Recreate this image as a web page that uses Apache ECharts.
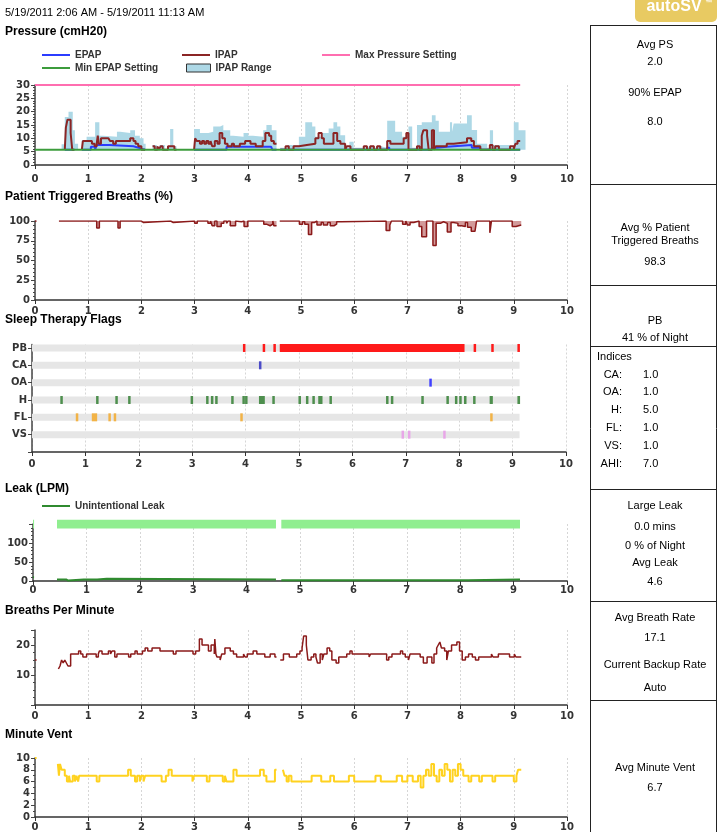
<!DOCTYPE html>
<html><head><meta charset="utf-8">
<script src="https://cdn.jsdelivr.net/npm/echarts@6/dist/echarts.min.js"></script>
<style>html,body{margin:0;padding:0;background:#fff}#c{width:721px;height:832px}</style>
</head><body><div id="c"></div>
<script>
// ---------------- DATA ----------------
const dateRange = '5/19/2011 2:06 AM - 5/19/2011 11:13 AM';
const panelTitles = ['Pressure (cmH20)', 'Patient Triggered Breaths (%)', 'Sleep Therapy Flags', 'Leak (LPM)', 'Breaths Per Minute', 'Minute Vent'];

// Pressure (cmH2O) — [hour, value], each value holds until the next point
const maxPressureSetting = [[0, 30], [9.12, 30]];
const minEpapSetting = [[0, 5.7], [9.12, 5.7]];
const ipapRangeTop = [
  [0.50,7.8],[0.56,18],[0.63,20],[0.71,13],[0.75,8],[0.81,8],[0.81,null],
  [0.88,9.4],[0.97,10.6],[1.13,16],[1.21,11],[1.28,10.6],[1.54,12.5],[1.60,12],[1.79,13],[1.88,11],[1.97,10],[2.04,8],[2.08,8],[2.08,null],
  [2.21,7.5],[2.29,5.7],[2.34,7.5],[2.44,5.7],[2.50,7],[2.54,13.5],[2.60,7],[2.66,7],[2.66,null],
  [2.99,13.5],[3.10,12],[3.26,12.5],[3.35,14.4],[3.48,15],[3.54,13],[3.67,11],[3.73,10.6],[3.92,12],[4.01,11],[4.10,10.6],[4.29,13],[4.35,15],[4.45,13],[4.54,13],[4.54,null],
  [4.61,6.5],[4.74,7.5],[4.96,10.6],[5.08,16],[5.21,14.4],[5.27,10.6],[5.40,12],[5.52,13.7],[5.61,16],[5.68,14.4],[5.74,11.2],[5.83,6.5],[5.91,8.7],[5.99,6.5],[6.20,7],[6.30,6.5],[6.40,7],[6.50,6.5],[6.62,16.6],[6.77,12.5],[6.90,10.6],[7.02,14.4],[7.09,6.5],[7.18,15],[7.27,16],[7.46,18.7],[7.53,16.6],[7.59,12.5],[7.80,16],[7.84,12.5],[7.87,15.6],[8.12,18.7],[8.21,13.1],[8.31,8],[8.50,6.5],[8.55,13],[8.61,7.5],[8.93,6.5],[9.00,16],[9.09,13],[9.22,13]
];
const ipap = [
  [0.56,5.7],[0.58,14],[0.61,17],[0.67,12],[0.70,5.7],[0.74,5.7],[0.74,null],
  [0.88,5.7],[0.90,9],[1.07,8],[1.12,7],[1.16,8],[1.18,11],[1.20,8],[1.24,10],[1.38,10],[1.41,9],[1.47,8],[1.52,9],[1.79,10],[1.85,9],[1.89,8],[1.94,7],[2.00,5.7],[2.07,5.7],[2.07,null],
  [2.21,7],[2.25,5.7],[2.30,7],[2.33,5.7],[2.36,7],[2.40,5.7],[2.50,7],[2.58,7],[2.62,5.7],[2.66,5.7],[2.66,null],
  [2.99,5.7],[3.01,10],[3.04,9],[3.10,8],[3.14,9],[3.18,8],[3.22,9],[3.26,8],[3.30,9],[3.33,7],[3.38,9],[3.43,8],[3.47,12],[3.52,10],[3.57,8],[3.62,7],[3.70,8],[3.74,7],[3.85,8],[3.95,9],[4.05,8],[4.15,7],[4.28,9],[4.33,12],[4.40,11],[4.44,9],[4.49,8],[4.54,8],[4.54,null],
  [4.61,5.7],[4.71,7],[4.77,5.7],[4.86,7],[4.96,7.5],[5.11,8],[5.27,10],[5.33,12],[5.39,10],[5.43,8],[5.61,12],[5.68,9],[5.74,8],[5.83,5.7],[5.86,7],[5.93,5.7],[6.18,7],[6.24,5.7],[6.30,7],[6.37,5.7],[6.43,7],[6.49,5.7],[6.62,9],[6.68,8],[6.93,10],[6.98,12],[7.02,5.7],[7.18,7],[7.23,5.7],[7.27,11],[7.30,13],[7.37,11],[7.40,5.7],[7.46,13],[7.50,5.7],[7.53,7],[7.74,8],[7.87,8.5],[8.12,10],[8.20,9],[8.25,7],[8.37,5.7],[8.55,7.5],[8.60,5.7],[8.65,7],[8.72,5.7],[8.93,7],[9.00,6],[9.03,8],[9.07,9],[9.12,9]
];
const epap = [
  [0.56,5.7],[0.74,5.7],[0.74,null],
  [0.88,5.7],[1.05,6.8],[1.13,5.7],[1.16,7.5],[1.40,7],[1.85,6.5],[1.95,6],[2.00,5.7],[2.07,5.7],[2.07,null],
  [2.99,5.7],[3.60,6.8],[4.44,6.8],[4.46,5.7],[4.54,5.7],[4.54,null],
  [4.61,5.7],[6.62,6.5],[6.66,5.7],[7.46,6.5],[7.55,6.8],[7.74,7.5],[8.21,6.5],[8.37,5.7],[9.12,5.7]
];

// Patient triggered breaths (%)
const triggeredBreaths = [
  [0,100],[0.03,100],[0.03,null],
  [0.45,100],[1.16,91],[1.21,100],[1.56,91],[1.60,100],[2.00,98],[2.04,100],[2.55,98],[2.60,100],[3.00,97],[3.05,100],[3.25,97],[3.30,100],[3.33,94],[3.38,100],[3.42,93],[3.50,97],[3.55,100],[3.60,97],[3.63,100],[3.67,94],[3.77,100],[3.80,99],[3.88,100],[3.93,93],[4.00,100],[4.30,96],[4.35,94],[4.42,96],[4.47,100],[4.49,94],[4.54,94],[4.54,null],
  [4.60,100],[4.97,96],[5.03,99],[5.07,96],[5.14,83],[5.20,98],[5.25,100],[5.30,95],[5.38,98],[5.42,95],[5.50,98],[5.55,94],[5.62,96],[5.67,99],[5.75,100],[6.60,88],[6.67,95],[6.70,100],[6.91,96],[6.97,100],[7.00,95],[7.05,98],[7.12,100],[7.22,93],[7.27,80],[7.36,100],[7.48,69],[7.54,97],[7.62,99],[7.68,97],[7.75,86],[7.82,98],[7.87,100],[7.90,97],[7.95,94],[8.02,93],[8.09,98],[8.13,92],[8.20,87],[8.27,88],[8.30,100],[8.55,85],[8.58,100],[8.97,93],[9.04,95],[9.14,95]
];

// Sleep therapy flags: rows bottom->top, events as [startHour, endHour]
const flagRows = ['VS', 'FL', 'H', 'OA', 'CA', 'PB'];
const recordSpan = [0, 9.13];
const flagPB = [[3.95,3.98],[4.32,4.35],[4.52,4.55],[4.64,8.10],[8.27,8.30],[8.60,8.63],[9.09,9.12]];
const flagCA = [[4.25,4.28]];
const flagOA = [[7.44,7.47]];
const flagH = [[0.53,0.56],[1.20,1.23],[1.56,1.59],[1.80,1.83],[2.97,3.00],[3.26,3.29],[3.35,3.38],[3.43,3.46],[3.73,3.76],[3.94,3.97],[3.99,4.02],[4.25,4.36],[4.50,4.53],[4.99,5.02],[5.13,5.16],[5.25,5.28],[5.36,5.44],[5.57,5.60],[6.63,6.66],[6.72,6.75],[7.29,7.32],[7.76,7.79],[7.92,7.95],[8.00,8.03],[8.09,8.12],[8.26,8.29],[8.57,8.63],[9.09,9.14]];
const flagFL = [[0.82,0.85],[1.12,1.22],[1.43,1.46],[1.53,1.56],[3.90,3.93],[8.58,8.61]];
const flagVS = [[6.92,6.95],[7.04,7.07],[7.70,7.73]];

// Leak (L/min)
const leakSessions = [[0,150],[0.02,150],[0.02,null],[0.45,150],[4.55,150],[4.55,null],[4.65,150],[9.12,150]];
const unintentionalLeak = [[0,10],[0.02,10],[0.02,null],[0.45,4],[0.62,1],[0.66,4],[0.95,7],[0.98,4],[1.20,6],[1.38,4],[4.55,4],[4.55,null],[4.65,2],[8.15,4],[9.12,4]];

// Breaths per minute
const breathRate = [
  [0,15],[0.03,15],[0.03,null],
  [0.44,12],[0.47,13],[0.50,15],[0.53,14],[0.56,15],[0.59,14],[0.62,13],[0.67,17],[0.82,18],[0.86,17],[0.90,16],[0.97,17],[1.15,16],[1.19,17],[1.21,18],[1.26,17],[1.38,18],[1.42,17],[1.45,18],[1.50,16],[1.54,17],[1.76,16],[1.80,17],[1.88,18],[1.92,17],[2.02,18],[2.07,19],[2.12,18],[2.20,19],[2.35,18],[2.60,17],[2.65,18],[2.97,17],[3.02,18],[3.09,22],[3.14,20],[3.26,18],[3.31,20],[3.37,17],[3.38,22],[3.40,17],[3.42,16],[3.48,15],[3.51,17],[3.57,19],[3.67,18],[3.73,17],[3.79,16],[3.92,17],[3.95,16],[3.99,17],[4.10,18],[4.17,17],[4.32,16],[4.42,17],[4.51,16],[4.54,16],[4.54,null],
  [4.61,15],[4.67,17],[4.78,16],[4.92,17],[4.98,18],[5.02,19],[5.05,23],[5.10,20],[5.13,15],[5.19,16],[5.24,17],[5.28,16],[5.31,14],[5.36,17],[5.40,15],[5.43,17],[5.49,19],[5.54,18],[5.58,15],[5.66,14],[5.71,16],[5.86,17],[5.92,18],[5.96,17],[6.28,16],[6.31,17],[6.61,15],[6.65,16],[6.71,17],[6.87,18],[6.91,17],[6.96,16],[7.02,15],[7.05,17],[7.24,16],[7.30,14],[7.37,16],[7.46,14],[7.50,17],[7.55,19],[7.58,20],[7.61,21],[7.64,19],[7.70,18],[7.74,15],[7.77,18],[7.83,20],[7.93,21],[7.98,18],[8.03,15],[8.09,16],[8.15,17],[8.22,16],[8.28,15],[8.34,16],[8.58,17],[8.61,16],[8.71,17],[8.92,16],[9.01,17],[9.04,16],[9.14,16]
];

// Minute ventilation (L/min)
const minuteVent = [
  [0,10],[0.03,10],[0.03,null],
  [0.43,9],[0.45,7],[0.47,9],[0.50,8],[0.56,7],[0.60,6],[0.64,7],[0.66,6],[0.71,7],[0.75,6],[0.78,7],[0.81,6],[0.83,7],[1.16,6],[1.21,7],[1.75,8],[1.80,7],[1.88,6],[1.92,7],[1.97,6],[2.00,7],[2.04,6],[2.07,7],[2.38,6],[2.46,7],[2.51,8],[2.57,7],[2.96,6],[2.99,7],[3.23,6],[3.28,7],[3.53,6],[3.57,7],[3.60,6],[3.73,8],[3.79,7],[4.23,8],[4.30,7],[4.35,6],[4.51,8],[4.54,8],[4.54,null],
  [4.66,8],[4.69,7],[4.73,6],[4.77,7],[4.82,6],[5.20,7],[5.38,6],[5.55,7],[5.62,6],[5.90,7],[6.00,6],[6.40,7],[6.50,6],[6.80,7],[6.90,6],[7.00,7],[7.10,6],[7.20,7],[7.25,5],[7.30,7],[7.35,8],[7.40,7],[7.45,9],[7.50,7],[7.55,6],[7.60,8],[7.65,7],[7.70,9],[7.75,8],[7.80,6],[7.85,8],[7.90,7],[7.95,9],[8.00,8],[8.05,7],[8.15,6],[8.20,7],[8.35,6],[8.40,7],[8.60,6],[8.65,7],[9.00,6],[9.05,7],[9.08,8],[9.14,8]
];

// Summary column
const summaryPressure = ['Avg PS', '2.0', '90% EPAP', '8.0'];
const summaryTriggered = ['Avg % Patient', 'Triggered Breaths', '98.3'];
const summaryPB = ['PB', '41 % of Night'];
const indexNames = ['CA:', 'OA:', 'H:', 'FL:', 'VS:', 'AHI:'];
const indexValues = ['1.0', '1.0', '5.0', '1.0', '1.0', '7.0'];
const summaryLeak = ['Large Leak', '0.0 mins', '0 % of Night', 'Avg Leak', '4.6'];
const summaryRate = ['Avg Breath Rate', '17.1', 'Current Backup Rate', 'Auto'];
const summaryVent = ['Avg Minute Vent', '6.7'];

// ---------------- CHART ----------------
const AXF = 'DejaVu Sans';
const TXF = 'Liberation Sans';
const chart = echarts.init(document.getElementById('c'), null, {renderer: 'canvas'});

const grids = [
  {left: 35, top: 85, width: 532, height: 80},
  {left: 35, top: 221, width: 532, height: 79},
  {left: 32, top: 344.5, width: 534, height: 107.5},
  {left: 33, top: 524, width: 534, height: 57},
  {left: 35, top: 630, width: 532, height: 75},
  {left: 35, top: 758, width: 532, height: 59}
];
const xMargins = [9, 6, 7, 4, 6, 5];
const xAxes = grids.map((g, i) => ({
  type: 'value', gridIndex: i, min: 0, max: 10, interval: 1,
  axisLine: {show: true, onZero: false, lineStyle: {color: '#333', width: 1.5}},
  axisTick: {show: true, length: 4, lineStyle: {color: '#333'}},
  axisLabel: {fontFamily: AXF, fontWeight: 'bold', fontSize: 10, color: '#333', margin: xMargins[i]},
  splitLine: {show: true, lineStyle: {color: '#d6d6d6', type: [2, 2], width: 1}}
}));
function yAx(i, min, max, interval, minorSplit, fmt) {
  return {
    type: 'value', gridIndex: i, min: min, max: max, interval: interval,
    axisLine: {show: true, onZero: false, lineStyle: {color: '#444', width: 1.5}},
    axisTick: {show: true, length: 4, lineStyle: {color: '#444'}},
    minorTick: {show: minorSplit > 0, splitNumber: minorSplit || 5, length: 2, lineStyle: {color: '#444'}},
    axisLabel: {fontFamily: AXF, fontWeight: 'bold', fontSize: 10, color: '#333', margin: 5, formatter: fmt},
    splitLine: {show: false}
  };
}
const yAxes = [
  yAx(0, 0, 30, 5, 5),
  yAx(1, 0, 100, 25, 5),
  yAx(2, 0, 6.2, 1, 0, v => (v >= 1 && v <= 6 && Number.isInteger(v)) ? flagRows[v - 1] : ''),
  yAx(3, 0, 150, 50, 5, v => v === 150 ? '' : String(v)),
  yAx(4, 0, 25, 10, 4, v => (v === 10 || v === 20) ? String(v) : ''),
  yAx(5, 0, 10, 2, 2)
];
yAxes[2].axisTick.customValues = [0, 1, 2, 3, 4, 5, 6];

function stepLine(name, gi, data, color, width, extra) {
  return Object.assign({
    name: name, type: 'line', xAxisIndex: gi, yAxisIndex: gi, data: data,
    step: 'end', symbol: 'none', animation: false, connectNulls: false,
    itemStyle: {color: color}, lineStyle: {color: color, width: width}
  }, extra || {});
}

function flagSeries(list, row, color, h) {
  return {
    type: 'custom', xAxisIndex: 2, yAxisIndex: 2, animation: false, clip: false,
    data: list.map(s => [s[0], s[1], row]),
    encode: {x: [0, 1], y: 2},
    renderItem: function (params, api) {
      const a = api.coord([api.value(0), api.value(2)]);
      const b = api.coord([api.value(1), api.value(2)]);
      return {type: 'rect', shape: {x: a[0], y: a[1] - h / 2, width: Math.max(b[0] - a[0], 2.5), height: h},
        style: {fill: color}};
    }
  };
}

const series = [
  stepLine('IPAP Range', 0, ipapRangeTop, '#add8e6', 0, {areaStyle: {color: '#add8e6', opacity: 1, origin: minEpapSetting[0][1]}, z: 1}),
  stepLine('EPAP', 0, epap, '#2b3cff', 2, {z: 2}),
  stepLine('IPAP', 0, ipap, '#8b2525', 2, {z: 3}),
  stepLine('Min EPAP Setting', 0, minEpapSetting, '#3c9c3c', 2, {z: 4}),
  stepLine('Max Pressure Setting', 0, maxPressureSetting, '#ff6eb0', 2, {z: 4}),
  stepLine('Patient Triggered Breaths', 1, triggeredBreaths, '#8b1a1a', 1.5, {areaStyle: {color: '#d29a9a', opacity: 1, origin: 'end'}})
];
// gray background bars for each flag row, then the events
flagRows.forEach((r, i) => series.push(flagSeries([recordSpan], i + 1, '#e6e6e6', 7)));
series.push(flagSeries(flagPB, 6, '#ff1a1a', 8));
series.push(flagSeries(flagCA, 5, '#4b4bc8', 8));
series.push(flagSeries(flagOA, 4, '#4040ff', 8));
series.push(flagSeries(flagH, 3, '#4e8f4e', 8));
series.push(flagSeries(flagFL, 2, '#f2b347', 8));
series.push(flagSeries(flagVS, 1, '#e8a6e8', 8));
series.push(stepLine('Leak Session', 3, leakSessions, '#90ee90', 9, {z: 1}));
series.push(stepLine('Unintentional Leak', 3, unintentionalLeak, '#2f8a2f', 2, {z: 3}));
series.push(stepLine('Breaths Per Minute', 4, breathRate, '#8b1a1a', 1.5));
series.push(stepLine('Minute Vent', 5, minuteVent, '#ffd21f', 2));

const legTxt = {fontFamily: TXF, fontWeight: 'bold', fontSize: 10, color: '#333'};
function leg(name, left, top, w, h, itemStyle) {
  const d = {name: name, icon: 'rect'};
  if (itemStyle) d.itemStyle = itemStyle;
  return {left: left, top: top, padding: 0, itemWidth: w, itemHeight: h, selectedMode: false,
    data: [d], textStyle: legTxt};
}
const legends = [
  leg('EPAP', 42, 50, 28, 2),
  leg('IPAP', 182, 50, 28, 2),
  leg('Max Pressure Setting', 322, 50, 28, 2),
  leg('Min EPAP Setting', 42, 63, 28, 2),
  leg('IPAP Range', 186, 63, 24, 8, {color: '#add8e6', borderColor: '#333', borderWidth: 1}),
  leg('Unintentional Leak', 42, 501, 28, 2)
];

// graphics: header, panel titles, summary column
const g = [];
function txt(s, x, y, font, align, color) {
  g.push({type: 'text', x: x, y: y, silent: true,
    style: {text: s, font: font, fill: color || '#000', align: align || 'left', verticalAlign: 'middle'}});
}
function hline(y) { g.push({type: 'line', silent: true, shape: {x1: 590.5, y1: y + 0.5, x2: 717, y2: y + 0.5}, style: {stroke: '#222', lineWidth: 1}}); }
txt(dateRange, 5, 13, '11px "' + TXF + '"');
const titleY = [32, 197, 320, 489, 611, 735];
panelTitles.forEach((t, i) => txt(t, 5, titleY[i], 'bold 12px "' + TXF + '"'));

// logo
g.push({type: 'rect', silent: true, shape: {x: 635, y: -8, width: 82, height: 30, r: 5}, style: {fill: '#e8ca62'}});
txt('autoSV', 674, 7, 'bold 16px "' + TXF + '"', 'center', '#fff');
txt('™', 709, 3, 'bold 7px "' + TXF + '"', 'center', '#fff');

// summary box frame
g.push({type: 'line', silent: true, shape: {x1: 590.5, y1: 25, x2: 590.5, y2: 832}, style: {stroke: '#222', lineWidth: 1}});
g.push({type: 'line', silent: true, shape: {x1: 716.5, y1: 25, x2: 716.5, y2: 832}, style: {stroke: '#222', lineWidth: 1}});
[25, 184, 285, 346, 489, 601, 700].forEach(hline);
const CX = 655, SF = '11px "' + TXF + '"';
[45, 62, 93, 122].forEach((y, i) => txt(summaryPressure[i], CX, y, SF, 'center'));
[228, 241, 262].forEach((y, i) => txt(summaryTriggered[i], CX, y, SF, 'center'));
[321, 338].forEach((y, i) => txt(summaryPB[i], CX, y, SF, 'center'));
txt('Indices', 597, 357, SF);
[375, 392, 410, 428, 446, 464].forEach((y, i) => { txt(indexNames[i], 622, y, SF, 'right'); txt(indexValues[i], 643, y, SF); });
[506, 527, 546, 563, 582].forEach((y, i) => txt(summaryLeak[i], CX, y, SF, 'center'));
[618, 638, 665, 688].forEach((y, i) => txt(summaryRate[i], CX, y, SF, 'center'));
[768, 788].forEach((y, i) => txt(summaryVent[i], CX, y, SF, 'center'));

chart.setOption({
  animation: false,
  backgroundColor: '#fff',
  grid: grids,
  xAxis: xAxes,
  yAxis: yAxes,
  legend: legends,
  series: series,
  graphic: g
});
</script></body></html>
